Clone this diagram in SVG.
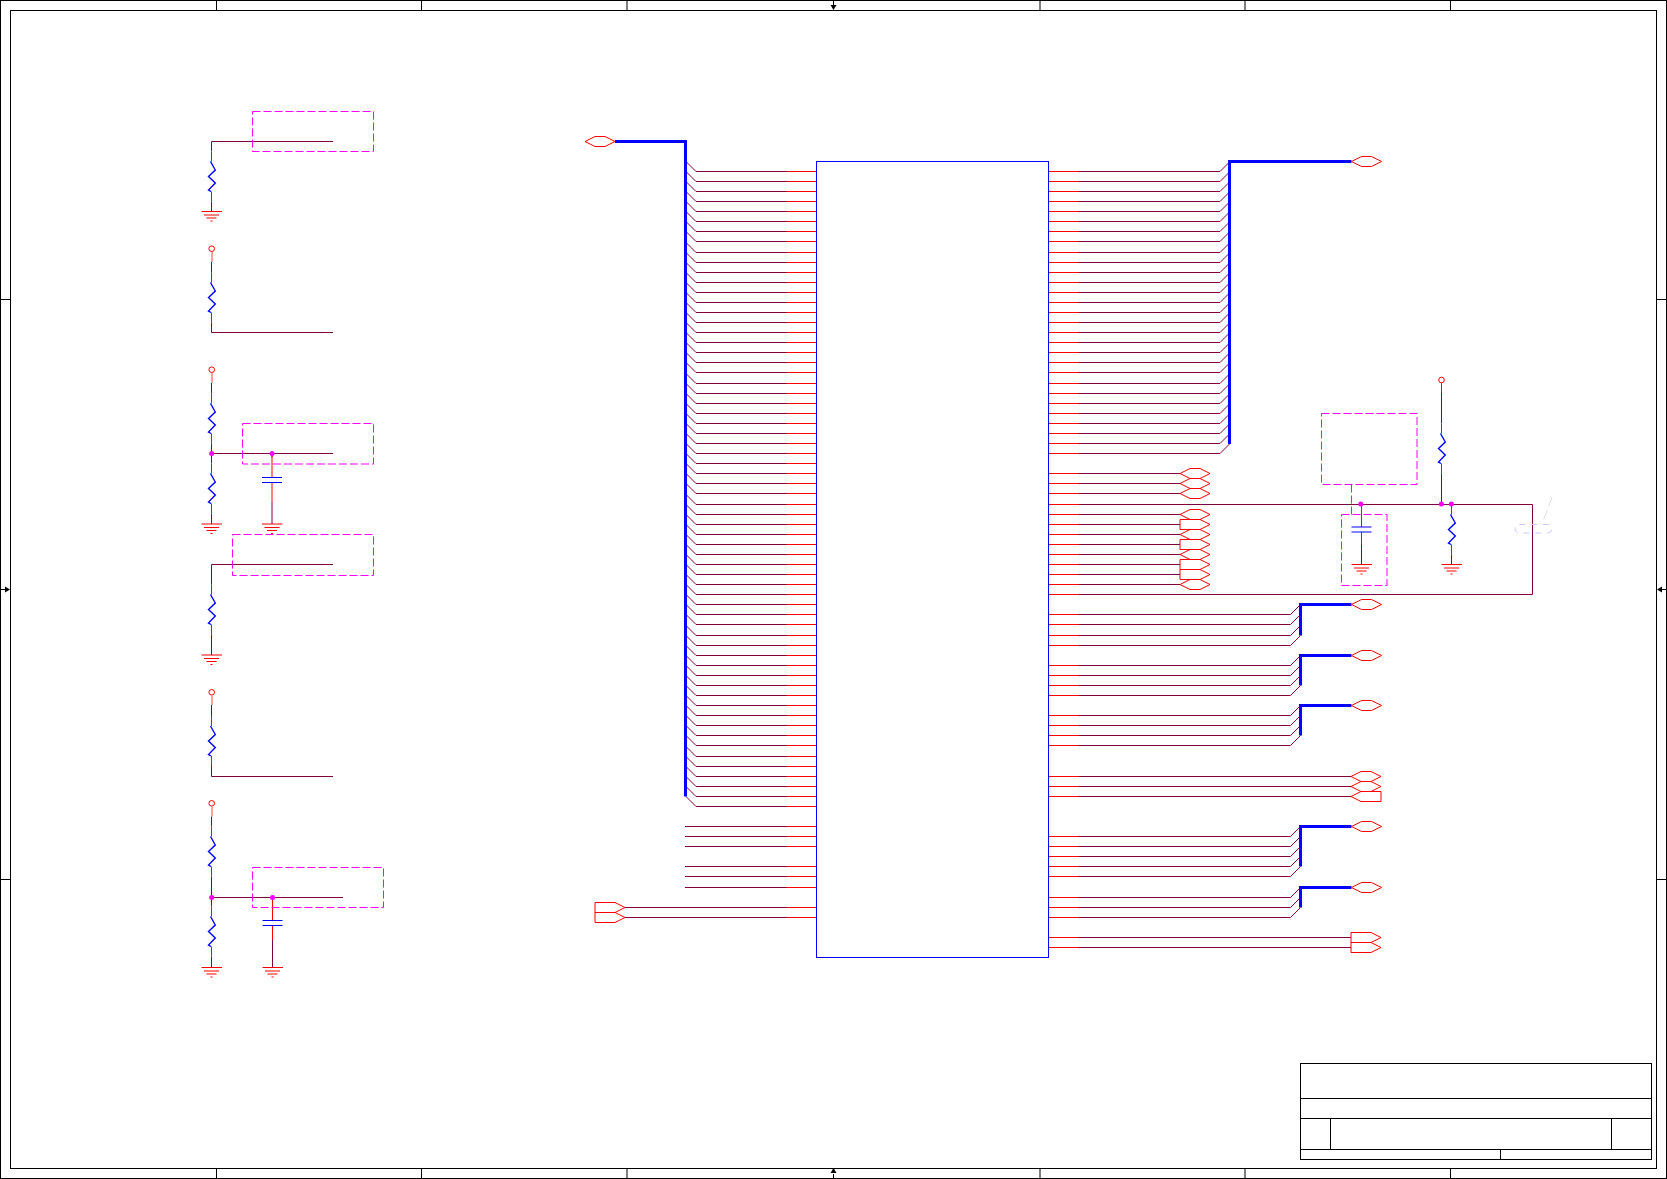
<svg xmlns="http://www.w3.org/2000/svg" width="1667" height="1179" viewBox="0 0 1667 1179">
<style>
.k{fill:none;stroke:#000;stroke-width:1}
.w,.w path{fill:none;stroke:#800040;stroke-width:1}
.r{fill:none;stroke:#ff0000;stroke-width:1}
.b{fill:none;stroke:#0000ff;stroke-width:1}
.z{fill:none;stroke:#0000ff;stroke-width:1.4}
.bus{fill:none;stroke:#0000ff;stroke-width:3}
.d{fill:none;stroke:#ff00ff;stroke-width:1;stroke-dasharray:8 3}
.j{fill:#ff00ff;stroke:none}
.st{fill:none;stroke:#ff8080;stroke-width:1.5}
</style>
<defs>
<g id="res"><path class="r" d="M0,-10V0M0,30V40"/><path class="z" d="M-1,0L3.8,8.5L-3,15L3.8,21.5L-3,28.5L-.5,30"/></g>
<g id="gnd"><path class="r" d="M-10,0H10.5M-7.5,3.5H7.5M-5,6.5H5M-1,9.5H1"/></g>
<g id="cap"><path class="b" d="M-10,0H10M-10,5H10"/></g>
<circle id="vcc" class="r" r="2.8"/>
<polygon id="hex" class="r" points="0,0 10,-5 20,-5 30,0 20,5 10,5"/>
<polygon id="out" class="r" points="0,-5 20,-5 30,0 20,5 0,5"/>
<polygon id="inp" class="r" points="0,0 10,-5 30,-5 30,5 10,5"/>
<polygon id="ah" fill="#000" points="-5,-3 0,0 -5,3"/>
</defs>

<g id="frame">
<rect class="k" x="0.5" y="0.5" width="1666" height="1178"/>
<rect class="k" x="10.5" y="10.5" width="1646" height="1158"/>
<path class="k" d="M216.5,0V10M421.5,0V10M627,0V10M1040,0V10M1245,0V10M1450.5,0V10M216.5,1168V1178M421.5,1168V1178M627,1168V1178M1040,1168V1178M1245,1168V1178M1450.5,1168V1178M0,299.5H10M0,879.5H10M1657,299.5H1667M1657,879.5H1667M0,589.5H5M1662,589.5H1667M833.5,0V5M833.5,1174V1178"/>
<use href="#ah" transform="translate(10,589.5)"/>
<use href="#ah" transform="translate(1657,589.5) rotate(180)"/>
<use href="#ah" transform="translate(833.5,10) rotate(90)"/>
<use href="#ah" transform="translate(833.5,1168) rotate(-90)"/>
</g>

<g id="title-block">
<rect class="k" x="1300.5" y="1063.5" width="351" height="96"/>
<path class="k" d="M1300.5,1098.5H1651.5M1300.5,1118.5H1651.5M1300.5,1149.5H1651.5M1330.5,1118.5V1149.5M1611.5,1118.5V1149.5M1500.5,1149.5V1159.5"/>
</g>

<g id="connectors">
<g class="w" id="nets-left">
<path d="M686,161.5L696,171.5H786"/><path d="M686,171.5L696,181.5H786"/><path d="M686,181.5L696,191.5H786"/><path d="M686,191.5L696,201.5H786"/>
<path d="M686,201.5L696,211.5H786"/><path d="M686,211.5L696,221.5H786"/><path d="M686,221.5L696,231.5H786"/><path d="M686,231.5L696,241.5H786"/>
<path d="M686,242.5L696,252.5H786"/><path d="M686,252.5L696,262.5H786"/><path d="M686,262.5L696,272.5H786"/><path d="M686,272.5L696,282.5H786"/>
<path d="M686,282.5L696,292.5H786"/><path d="M686,292.5L696,302.5H786"/><path d="M686,302.5L696,312.5H786"/><path d="M686,312.5L696,322.5H786"/>
<path d="M686,322.5L696,332.5H786"/><path d="M686,332.5L696,342.5H786"/><path d="M686,342.5L696,352.5H786"/><path d="M686,352.5L696,362.5H786"/>
<path d="M686,362.5L696,372.5H786"/><path d="M686,373.5L696,383.5H786"/><path d="M686,383.5L696,393.5H786"/><path d="M686,393.5L696,403.5H786"/>
<path d="M686,403.5L696,413.5H786"/><path d="M686,413.5L696,423.5H786"/><path d="M686,423.5L696,433.5H786"/><path d="M686,433.5L696,443.5H786"/>
<path d="M686,443.5L696,453.5H786"/><path d="M686,453.5L696,463.5H786"/><path d="M686,463.5L696,473.5H786"/><path d="M686,473.5L696,483.5H786"/>
<path d="M686,483.5L696,493.5H786"/><path d="M686,494.5L696,504.5H786"/><path d="M686,504.5L696,514.5H786"/><path d="M686,514.5L696,524.5H786"/>
<path d="M686,524.5L696,534.5H786"/><path d="M686,534.5L696,544.5H786"/><path d="M686,544.5L696,554.5H786"/><path d="M686,554.5L696,564.5H786"/>
<path d="M686,564.5L696,574.5H786"/><path d="M686,574.5L696,584.5H786"/><path d="M686,584.5L696,594.5H786"/><path d="M686,594.5L696,604.5H786"/>
<path d="M686,604.5L696,614.5H786"/><path d="M686,614.5L696,624.5H786"/><path d="M686,625.5L696,635.5H786"/><path d="M686,635.5L696,645.5H786"/>
<path d="M686,645.5L696,655.5H786"/><path d="M686,655.5L696,665.5H786"/><path d="M686,665.5L696,675.5H786"/><path d="M686,675.5L696,685.5H786"/>
<path d="M686,685.5L696,695.5H786"/><path d="M686,695.5L696,705.5H786"/><path d="M686,705.5L696,715.5H786"/><path d="M686,715.5L696,725.5H786"/>
<path d="M686,725.5L696,735.5H786"/><path d="M686,735.5L696,745.5H786"/><path d="M686,746.5L696,756.5H786"/><path d="M686,756.5L696,766.5H786"/>
<path d="M686,766.5L696,776.5H786"/><path d="M686,776.5L696,786.5H786"/><path d="M686,786.5L696,796.5H786"/><path d="M686,796.5L696,806.5H786"/>
<path d="M685,826.5H786"/><path d="M685,836.5H786"/><path d="M685,846.5H786"/>
<path d="M685,866.5H786"/><path d="M685,876.5H786"/><path d="M685,887.5H786"/>
<path d="M625,907.5H786"/><path d="M625,917.5H786"/>
</g>
<g class="w" id="nets-right">
<path d="M1079,171.5H1220L1230,161.5"/><path d="M1079,181.5H1220L1230,171.5"/><path d="M1079,191.5H1220L1230,181.5"/><path d="M1079,201.5H1220L1230,191.5"/>
<path d="M1079,211.5H1220L1230,201.5"/><path d="M1079,221.5H1220L1230,211.5"/><path d="M1079,231.5H1220L1230,221.5"/><path d="M1079,241.5H1220L1230,231.5"/>
<path d="M1079,252.5H1220L1230,242.5"/><path d="M1079,262.5H1220L1230,252.5"/><path d="M1079,272.5H1220L1230,262.5"/><path d="M1079,282.5H1220L1230,272.5"/>
<path d="M1079,292.5H1220L1230,282.5"/><path d="M1079,302.5H1220L1230,292.5"/><path d="M1079,312.5H1220L1230,302.5"/><path d="M1079,322.5H1220L1230,312.5"/>
<path d="M1079,332.5H1220L1230,322.5"/><path d="M1079,342.5H1220L1230,332.5"/><path d="M1079,352.5H1220L1230,342.5"/><path d="M1079,362.5H1220L1230,352.5"/>
<path d="M1079,372.5H1220L1230,362.5"/><path d="M1079,383.5H1220L1230,373.5"/><path d="M1079,393.5H1220L1230,383.5"/><path d="M1079,403.5H1220L1230,393.5"/>
<path d="M1079,413.5H1220L1230,403.5"/><path d="M1079,423.5H1220L1230,413.5"/><path d="M1079,433.5H1220L1230,423.5"/><path d="M1079,443.5H1220L1230,433.5"/>
<path d="M1079,453.5H1220L1230,443.5"/>
<path d="M1079,473.5H1180"/><path d="M1079,483.5H1180"/><path d="M1079,493.5H1180"/>
<path d="M1079,504.5H1532.5V594.5H1079"/>
<path d="M1079,514.5H1180"/><path d="M1079,524.5H1180"/><path d="M1079,534.5H1180"/><path d="M1079,544.5H1180"/>
<path d="M1079,554.5H1180"/><path d="M1079,564.5H1180"/><path d="M1079,574.5H1180"/><path d="M1079,584.5H1180"/>
<path d="M1079,614.5H1290.5L1300.5,604.5"/><path d="M1079,624.5H1290.5L1300.5,614.5"/><path d="M1079,635.5H1290.5L1300.5,625.5"/><path d="M1079,645.5H1290.5L1300.5,635.5"/>
<path d="M1079,665.5H1290.5L1300.5,655.5"/><path d="M1079,675.5H1290.5L1300.5,665.5"/><path d="M1079,685.5H1290.5L1300.5,675.5"/><path d="M1079,695.5H1290.5L1300.5,685.5"/>
<path d="M1079,715.5H1290.5L1300.5,705.5"/><path d="M1079,725.5H1290.5L1300.5,715.5"/><path d="M1079,735.5H1290.5L1300.5,725.5"/><path d="M1079,745.5H1290.5L1300.5,735.5"/>
<path d="M1079,776.5H1351"/><path d="M1079,786.5H1351"/><path d="M1079,796.5H1351"/>
<path d="M1079,836.5H1290.5L1300.5,826.5"/><path d="M1079,846.5H1290.5L1300.5,836.5"/><path d="M1079,856.5H1290.5L1300.5,846.5"/><path d="M1079,866.5H1290.5L1300.5,856.5"/><path d="M1079,876.5H1290.5L1300.5,866.5"/>
<path d="M1079,897.5H1290.5L1300.5,887.5"/><path d="M1079,907.5H1290.5L1300.5,897.5"/><path d="M1079,917.5H1290.5L1300.5,907.5"/>
<path d="M1079,937.5H1351"/><path d="M1079,947.5H1351"/>
</g>
<g id="buses">
<path class="bus" d="M615,141.5H685.5V796.5"/>
<path class="bus" d="M1351.5,161.5H1229.5V444"/>
<path class="bus" d="M1351.5,604.5H1300.5V635.5"/>
<path class="bus" d="M1351.5,655.5H1300.5V685.5"/>
<path class="bus" d="M1351.5,705.5H1300.5V735.5"/>
<path class="bus" d="M1351.5,826.5H1300.5V866.5"/>
<path class="bus" d="M1351.5,887.5H1300.5V907.5"/>
</g>
<g class="w" id="nets-passives">
<path d="M333,141.5H211.5V151.5M211.5,201.5V211.5"/>
<path d="M211.5,262V272.5M211.5,322.5V332.5H333"/>
<path d="M211.5,383V393.5M211.5,443.5V463.5M211.5,453.5H333M272,453.5V457.5M272,502V524M211.5,513.5V524"/>
<path d="M333,564.5H211.5V584.5M211.5,634.5V655"/>
<path d="M211.5,705V716M211.5,766V776.5H333"/>
<path d="M211.5,816.5V826.5M211.5,876.5V906.5M211.5,897.5H343M272.5,940V967M211.5,956.5V967.5"/>
<path d="M1441.5,393V423.5M1441.5,473.5V504.5M1451.5,554.5V564.5M1361.5,545V564.5"/>
</g>
</g>

<g id="U1">
<rect class="b" x="816.5" y="161.5" width="232" height="796"/>
<path class="r" d="M786,171.5h30M786,181.5h30M786,191.5h30M786,201.5h30M786,211.5h30M786,221.5h30M786,231.5h30M786,241.5h30M786,252.5h30M786,262.5h30M786,272.5h30M786,282.5h30M786,292.5h30M786,302.5h30M786,312.5h30M786,322.5h30M786,332.5h30M786,342.5h30M786,352.5h30M786,362.5h30M786,372.5h30M786,383.5h30M786,393.5h30M786,403.5h30M786,413.5h30M786,423.5h30M786,433.5h30M786,443.5h30M786,453.5h30M786,463.5h30M786,473.5h30M786,483.5h30M786,493.5h30M786,504.5h30M786,514.5h30M786,524.5h30M786,534.5h30M786,544.5h30M786,554.5h30M786,564.5h30M786,574.5h30M786,584.5h30M786,594.5h30M786,604.5h30M786,614.5h30M786,624.5h30M786,635.5h30M786,645.5h30M786,655.5h30M786,665.5h30M786,675.5h30M786,685.5h30M786,695.5h30M786,705.5h30M786,715.5h30M786,725.5h30M786,735.5h30M786,745.5h30M786,756.5h30M786,766.5h30M786,776.5h30M786,786.5h30M786,796.5h30M786,806.5h30M786,826.5h30M786,836.5h30M786,846.5h30M786,866.5h30M786,876.5h30M786,887.5h30M786,907.5h30M786,917.5h30"/>
<path class="r" d="M1049,171.5h30M1049,181.5h30M1049,191.5h30M1049,201.5h30M1049,211.5h30M1049,221.5h30M1049,231.5h30M1049,241.5h30M1049,252.5h30M1049,262.5h30M1049,272.5h30M1049,282.5h30M1049,292.5h30M1049,302.5h30M1049,312.5h30M1049,322.5h30M1049,332.5h30M1049,342.5h30M1049,352.5h30M1049,362.5h30M1049,372.5h30M1049,383.5h30M1049,393.5h30M1049,403.5h30M1049,413.5h30M1049,423.5h30M1049,433.5h30M1049,443.5h30M1049,453.5h30M1049,473.5h30M1049,483.5h30M1049,493.5h30M1049,504.5h30M1049,514.5h30M1049,524.5h30M1049,534.5h30M1049,544.5h30M1049,554.5h30M1049,564.5h30M1049,574.5h30M1049,584.5h30M1049,594.5h30M1049,614.5h30M1049,624.5h30M1049,635.5h30M1049,645.5h30M1049,665.5h30M1049,675.5h30M1049,685.5h30M1049,695.5h30M1049,715.5h30M1049,725.5h30M1049,735.5h30M1049,745.5h30M1049,776.5h30M1049,786.5h30M1049,796.5h30M1049,836.5h30M1049,846.5h30M1049,856.5h30M1049,866.5h30M1049,876.5h30M1049,897.5h30M1049,907.5h30M1049,917.5h30M1049,937.5h30M1049,947.5h30"/>
</g>

<g id="ports">
<g id="port-l1"><use href="#hex" x="585" y="141.5"/></g>
<g id="port-l2"><use href="#out" x="595" y="907.5"/></g>
<g id="port-l3"><use href="#out" x="595" y="917.5"/></g>
<g id="port-r1"><use href="#hex" x="1351.5" y="161.5"/></g>
<g id="port-a1"><use href="#hex" x="1180" y="473.5"/></g>
<g id="port-a2"><use href="#hex" x="1180" y="483.5"/></g>
<g id="port-a3"><use href="#hex" x="1180" y="493.5"/></g>
<g id="port-a4"><use href="#hex" x="1180" y="514.5"/></g>
<g id="port-a5"><use href="#out" x="1180" y="524.5"/></g>
<g id="port-a6"><use href="#hex" x="1180" y="534.5"/></g>
<g id="port-a7"><use href="#out" x="1180" y="544.5"/></g>
<g id="port-a8"><use href="#hex" x="1180" y="554.5"/></g>
<g id="port-a9"><use href="#out" x="1180" y="564.5"/></g>
<g id="port-a10"><use href="#out" x="1180" y="574.5"/></g>
<g id="port-a11"><use href="#hex" x="1180" y="584.5"/></g>
<g id="port-b1"><use href="#hex" x="1351.5" y="604.5"/></g>
<g id="port-b2"><use href="#hex" x="1351.5" y="655.5"/></g>
<g id="port-b3"><use href="#hex" x="1351.5" y="705.5"/></g>
<g id="port-c1"><use href="#hex" x="1351" y="776.5"/></g>
<g id="port-c2"><use href="#hex" x="1351" y="786.5"/></g>
<g id="port-c3"><use href="#inp" x="1351" y="796.5"/></g>
<g id="port-b4"><use href="#hex" x="1351.5" y="826.5"/></g>
<g id="port-b5"><use href="#hex" x="1351.5" y="887.5"/></g>
<g id="port-d1"><use href="#out" x="1351" y="937.5"/></g>
<g id="port-d2"><use href="#out" x="1351" y="947.5"/></g>
</g>

<g id="group-r1">
<use href="#res" x="211.5" y="161.5"/><use href="#gnd" x="211.5" y="211.5"/>
<rect class="d" x="252.5" y="111.5" width="121" height="40"/>
</g>
<g id="group-r2">
<use href="#vcc" x="211.7" y="248.7"/><path class="st" d="M212,252V262"/>
<use href="#res" x="211.5" y="282.5"/>
</g>
<g id="group-r3">
<use href="#vcc" x="211.7" y="369.7"/><path class="st" d="M212,373V383"/>
<use href="#res" x="211.5" y="403.5"/><use href="#res" x="211.5" y="473.5"/>
<path class="r" d="M272,453.5V477.5M272,482.5V502"/><use href="#cap" x="272" y="477.5"/>
<use href="#gnd" x="211.5" y="524"/><use href="#gnd" x="272" y="524"/>
<circle class="j" cx="211.7" cy="453.5" r="2.5"/><circle class="j" cx="272" cy="453.5" r="2.5"/>
<rect class="d" x="242.5" y="423.5" width="131" height="40.5"/>
</g>
<g id="group-r4">
<use href="#res" x="211.5" y="594.5"/><use href="#gnd" x="211.5" y="655"/>
<rect class="d" x="232.5" y="534.5" width="141" height="41"/>
</g>
<g id="group-r5">
<use href="#vcc" x="211.7" y="692.3"/><path class="st" d="M212,695.5V705"/>
<use href="#res" x="211.5" y="726"/>
</g>
<g id="group-r6">
<use href="#vcc" x="211.7" y="803.3"/><path class="st" d="M212,806.5V816.5"/>
<use href="#res" x="211.5" y="836.5"/><use href="#res" x="211.5" y="916.5"/>
<path class="r" d="M272.5,897.5V920.5M272.5,925.5V940"/><use href="#cap" x="272.5" y="920.5"/>
<use href="#gnd" x="211.5" y="967.5"/><use href="#gnd" x="272.5" y="967.5"/>
<circle class="j" cx="211.7" cy="897.5" r="2.5"/><circle class="j" cx="272.5" cy="897.5" r="2.5"/>
<rect class="d" x="252.5" y="867.5" width="131" height="40"/>
</g>
<g id="group-right">
<use href="#vcc" x="1441.5" y="380"/><path class="r" d="M1441.5,383V393"/>
<use href="#res" x="1441.5" y="433.5"/><use href="#res" x="1451.5" y="514.5"/>
<use href="#gnd" x="1451.5" y="564.5"/>
<path class="r" d="M1361.5,504.5V527M1361.5,532V545"/><use href="#cap" x="1361.5" y="527"/>
<use href="#gnd" x="1361.5" y="564.5"/>
<circle class="j" cx="1360.8" cy="504" r="2.5"/><circle class="j" cx="1441.4" cy="504" r="2.5"/><circle class="j" cx="1451.4" cy="504" r="2.5"/>
<rect class="d" x="1321.5" y="413.5" width="95.5" height="71"/>
<path class="d" d="M1351.5,484.5V514.5"/>
<rect class="d" x="1341.5" y="514.5" width="45.5" height="71"/>
<rect x="1515" y="524.5" width="37" height="8.5" rx="4.2" fill="none" stroke="#c8c8ff" stroke-width="1" stroke-dasharray="6 6"/>
<path d="M1552,497L1542,524" fill="none" stroke="#e0e0e0" stroke-width="1" stroke-dasharray="10 4"/>
</g>
</svg>
